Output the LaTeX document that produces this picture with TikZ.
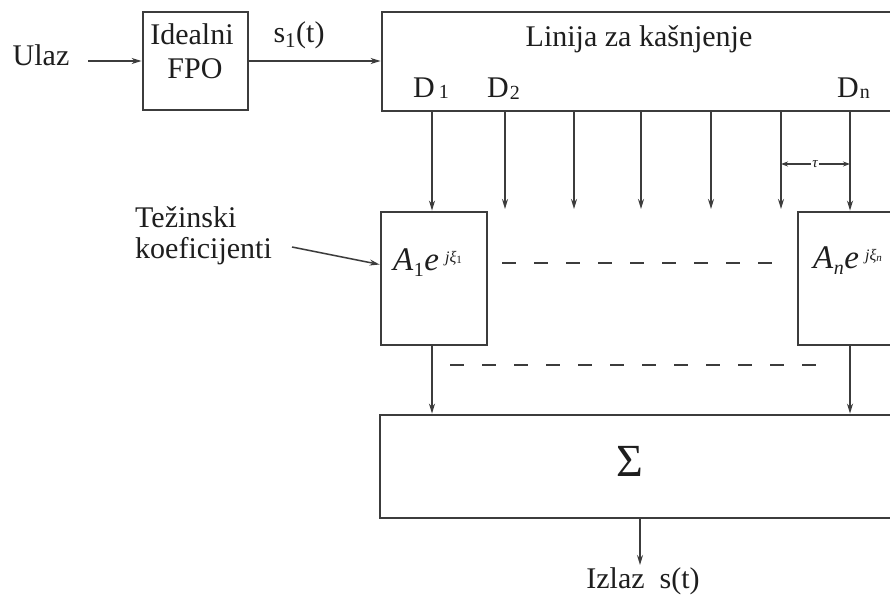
\documentclass[tikz,border=0pt]{standalone}
\usepackage{fontspec}
\setmainfont{Liberation Serif}
\usetikzlibrary{arrows.meta,calc}
\definecolor{ink}{RGB}{60,60,60}
\definecolor{txt}{RGB}{30,30,30}
\begin{document}
\begin{tikzpicture}[x=1pt,y=-1pt,
  box/.style={draw=ink, line width=2.8pt, inner sep=0pt},
  conn/.style={draw=ink, line width=1.5pt, -{Stealth[length=10pt,width=6pt]}},
  smallarr/.style={draw=ink, line width=1.2pt, -{Stealth[length=7pt,width=5pt]}},
  lbl/.style={font=\fontsize{30}{34}\selectfont, text=txt, inner sep=0pt},
  mth/.style={font=\fontsize{33}{38}\selectfont, text=txt, inner sep=0pt},
  dashline/.style={draw=ink, line width=1.4pt, dash pattern=on 14pt off 18pt}]
\clip (0,0) rectangle (890,594);
\fill[white] (0,0) rectangle (890,594);

% boxes
\node[box, minimum width=105pt, minimum height=98pt] (fpo) at (195.5,61) {};
\node[box, minimum width=528pt, minimum height=99pt] (delay) at (646,61.5) {};
\node[box, minimum width=106pt, minimum height=133pt] (A1) at (434,278.5) {};
\node[box, minimum width=112pt, minimum height=133pt] (An) at (854,278.5) {};
\node[box, minimum width=530pt, minimum height=103pt] (sigma) at (645,466.5) {};

% texts
\node[lbl, anchor=base] (ulaz) at (41,65) {Ulaz};
\node[lbl, anchor=base] (ideal) at (192,45) {Idealni};
\node[lbl, anchor=base] (fpotxt) at (195,78) {FPO};
\node[lbl, anchor=base] (s1) at (299,42) {s\textsubscript{1}(t)};
\node[lbl, anchor=base] (ltxt) at (639,47) {Linija za kašnjenje};
\node[lbl, anchor=base west] (D1) at (413,97) {D\kern4pt\raisebox{-1pt}{\fontsize{20}{20}\selectfont 1}};
\node[lbl, anchor=base west] (D2) at (487,97) {D\kern1pt\raisebox{-2pt}{\fontsize{20}{20}\selectfont 2}};
\node[lbl, anchor=base west] (Dn) at (837,97) {D\kern1pt\raisebox{-1pt}{\fontsize{20}{20}\selectfont n}};
\node[lbl, anchor=base west] (tez) at (135,227) {Težinski};
\node[lbl, anchor=base west] (koef) at (135,258) {koeficijenti};
\node[mth, anchor=base west] (a1txt) at (393,270) {\textit{A}\kern0.5pt\raisebox{-6pt}{\fontsize{20}{20}\selectfont 1}\kern0.5pt\textit{e}\kern6pt\raisebox{8pt}{\fontsize{16}{16}\selectfont\textit{j}\textit{ξ}\raisebox{-1.5pt}{\fontsize{11}{11}\selectfont 1}}};
\node[mth, anchor=base west] (antxt) at (813,268) {\textit{A}\kern0.5pt\raisebox{-6pt}{\fontsize{20}{20}\selectfont\textit{n}}\kern0.5pt\textit{e}\kern6pt\raisebox{8pt}{\fontsize{16}{16}\selectfont\textit{j}\textit{ξ}\raisebox{-1.5pt}{\fontsize{11}{11}\selectfont\textit{n}}}};
\node[text=txt, font=\fontsize{46}{50}\selectfont, inner sep=0pt] (sum) at (629.5,461) {Σ};
\node[lbl, anchor=base] (izlaz) at (643,588) {Izlaz\ \ s(t)};
\node[text=txt, font=\fontsize{15}{16}\selectfont\itshape, inner sep=1.5pt] (tau) at (815,164) {τ};

% coordinates
\coordinate (in) at (88,61);
\foreach \i/\x in {1/432,2/505,3/574,4/641,5/711,6/781,7/850} {
  \coordinate (t\i) at (\x,111);
  \coordinate (e\i) at (\x,209);
}
\coordinate (kstart) at (292,247);
\coordinate (da) at (502,263);
\coordinate (db) at (789,263);
\coordinate (dc) at (450,365);
\coordinate (dd) at (831,365);
\coordinate (out) at (640,565);

% connectors
\draw[conn] (in) -- (fpo.west |- in);
\draw[conn] (fpo.east) -- (fpo.east -| delay.west);
\draw[conn] (t1) -- (t1 |- A1.north);
\draw[conn] (t7) -- (t7 |- An.north);
\foreach \i in {2,...,6} { \draw[conn] (t\i) -- (e\i); }
\draw[conn] (kstart) -- ($(A1.west)+(0,-14)$);
\draw[conn] (A1.south -| t1) -- (sigma.north -| t1);
\draw[conn] (An.south -| t7) -- (sigma.north -| t7);
\draw[conn] (sigma.south -| out) -- (out);
\draw[smallarr] (tau.west) -- (tau.west -| t6);
\draw[smallarr] (tau.east) -- (tau.east -| t7);
\draw[dashline] (da) -- (db);
\draw[dashline] (dc) -- (dd);
\end{tikzpicture}
\end{document}
